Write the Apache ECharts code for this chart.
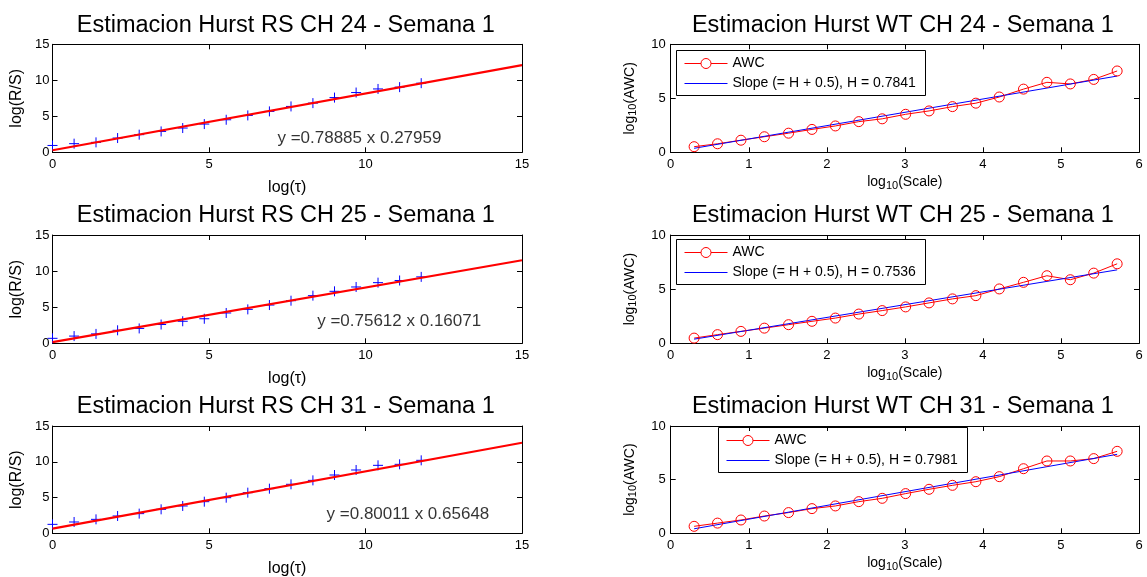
<!DOCTYPE html>
<html><head><meta charset="utf-8">
<script src="https://cdn.jsdelivr.net/npm/echarts@6/dist/echarts.min.js"></script>
<style>html,body{margin:0;padding:0;background:#fff}#c{width:1147px;height:577px}</style>
</head><body><div id="c"></div>
<script>
// ---------- data ----------
const rsTitles = ['Estimacion Hurst RS CH 24 - Semana 1', 'Estimacion Hurst RS CH 25 - Semana 1', 'Estimacion Hurst RS CH 31 - Semana 1'];
const wtTitles = ['Estimacion Hurst WT CH 24 - Semana 1', 'Estimacion Hurst WT CH 25 - Semana 1', 'Estimacion Hurst WT CH 31 - Semana 1'];
const rsX = [0, 0.69, 1.39, 2.08, 2.77, 3.47, 4.16, 4.85, 5.55, 6.24, 6.93, 7.62, 8.32, 9.01, 9.70, 10.40, 11.09, 11.78];
const rsCH24 = [0.95, 1.2, 1.38, 1.98, 2.45, 2.9, 3.37, 3.92, 4.52, 5.12, 5.68, 6.37, 6.83, 7.6, 8.3, 8.8, 9.05, 9.6];
const rsCH25 = [0.69, 1.0, 1.3, 1.8, 2.06, 2.6, 3.05, 3.4, 4.2, 4.7, 5.3, 5.9, 6.6, 7.2, 7.8, 8.4, 8.7, 9.2];
const rsCH31 = [1.25, 1.58, 1.95, 2.42, 2.75, 3.35, 3.82, 4.42, 4.98, 5.68, 6.24, 6.85, 7.4, 8.15, 8.85, 9.5, 9.64, 10.2];
const rsFitCH24 = [[0, 0.28], [15, 12.11]];
const rsFitCH25 = [[0, 0.16], [15, 11.50]];
const rsFitCH31 = [[0, 0.66], [15, 12.66]];
const rsEquations = ['y =0.78885 x 0.27959', 'y =0.75612 x 0.16071', 'y =0.80011 x 0.65648'];
const rsEquationAt = [[7.17, 1.9], [8.44, 2.98], [8.74, 2.66]];
const rsXName = 'log(τ)';
const rsYName = 'log(R/S)';

const wtX = [0.30, 0.60, 0.90, 1.20, 1.51, 1.81, 2.11, 2.41, 2.71, 3.01, 3.31, 3.61, 3.91, 4.21, 4.52, 4.82, 5.12, 5.42, 5.72];
const wtCH24 = [0.52, 0.79, 1.12, 1.44, 1.77, 2.12, 2.44, 2.84, 3.1, 3.52, 3.83, 4.23, 4.55, 5.12, 5.85, 6.48, 6.33, 6.75, 7.53];
const wtCH25 = [0.48, 0.8, 1.1, 1.4, 1.72, 2.03, 2.33, 2.7, 3.02, 3.36, 3.73, 4.1, 4.4, 5.02, 5.63, 6.24, 5.87, 6.48, 7.34];
const wtCH31 = [0.65, 0.95, 1.24, 1.61, 1.93, 2.3, 2.55, 2.95, 3.26, 3.7, 4.1, 4.47, 4.81, 5.28, 6.02, 6.74, 6.74, 6.96, 7.64];
const wtFitCH24 = [[0.30, 0.37], [5.72, 7.06]];
const wtFitCH25 = [[0.30, 0.38], [5.72, 6.78]];
const wtFitCH31 = [[0.30, 0.42], [5.72, 7.36]];
const wtSeriesName = 'AWC';
const wtSlopeNames = ['Slope (= H + 0.5), H = 0.7841', 'Slope (= H + 0.5), H = 0.7536', 'Slope (= H + 0.5), H = 0.7981'];
const wtXName = '{m|log}{s|10}{m|(Scale)}';
const wtYName = '{m|log}{s|10}{m|(AWC)}';

const rsSets = [rsCH24, rsCH25, rsCH31];
const rsFits = [rsFitCH24, rsFitCH25, rsFitCH31];
const wtSets = [wtCH24, wtCH25, wtCH31];
const wtFits = [wtFitCH24, wtFitCH25, wtFitCH31];

// ---------- layout ----------
const FONT = 'Liberation Sans, Arial, Helvetica, sans-serif';
const colLeft = [52.5, 670.7];
const colWidth = [469.5, 468.3];
const rowTop = [44.3, 235, 426];
const rowHeight = [108, 108.3, 107.3];
const legendPos = [[676.5, 50.5], [676.5, 239.5], [718.5, 427.5]];
const legendBox = { w: 249, h: 45, pad: 8, icon: 43, row1: 12.5, row2: 32.5 };

const grids = [], xAxes = [], yAxes = [], titles = [], series = [], graphics = [];
const richName = {
  m: { fontSize: 14, lineHeight: 16, verticalAlign: 'top', fontFamily: FONT, color: '#000' },
  s: { fontSize: 11, lineHeight: 11, verticalAlign: 'bottom', padding: [8, 0, 0, 0], fontFamily: FONT, color: '#000' }
};

function addAxes(gi, xmin, xmax, xint, ymin, ymax, yint, xName, yName, isWT) {
  const lineStyle = { color: '#000', width: 1 };
  const tick = { show: true, inside: true, length: 5, lineStyle: { color: '#000', width: 1 } };
  const label = { show: true, color: '#000', fontSize: 13, fontFamily: FONT };
  xAxes.push({
    type: 'value', gridIndex: gi, position: 'bottom', min: xmin, max: xmax, interval: xint,
    axisLine: { show: true, onZero: false, lineStyle }, axisTick: tick, splitLine: { show: false },
    axisLabel: Object.assign({ margin: 6, hideOverlap: false }, label),
    name: xName, nameLocation: 'middle', nameGap: isWT ? 18 : 27,
    nameTextStyle: isWT ? { rich: richName, color: '#000' } : { fontSize: 16, color: '#000', fontFamily: FONT }
  });
  xAxes.push({
    type: 'value', gridIndex: gi, position: 'top', min: xmin, max: xmax, interval: xint,
    axisLine: { show: true, onZero: false, lineStyle }, axisTick: tick, splitLine: { show: false },
    axisLabel: { show: false }
  });
  yAxes.push({
    type: 'value', gridIndex: gi, position: 'left', min: ymin, max: ymax, interval: yint,
    axisLine: { show: true, onZero: false, lineStyle }, axisTick: tick, splitLine: { show: false },
    axisLabel: Object.assign({ margin: isWT ? 5 : 3, hideOverlap: false }, label),
    name: yName, nameLocation: 'middle', nameGap: isWT ? 32 : 28,
    nameTextStyle: isWT ? { rich: richName, color: '#000' } : { fontSize: 16, color: '#000', fontFamily: FONT }
  });
  yAxes.push({
    type: 'value', gridIndex: gi, position: 'right', min: ymin, max: ymax, interval: yint,
    axisLine: { show: true, onZero: false, lineStyle }, axisTick: tick, splitLine: { show: false },
    axisLabel: { show: false }
  });
}

function addLegend(r) {
  const x0 = legendPos[r][0], y0 = legendPos[r][1];
  const ix = x0 + legendBox.pad, tx = ix + legendBox.icon + 5;
  const ya = Math.round(y0 + legendBox.row1) + 0.5, yb = Math.round(y0 + legendBox.row2) + 0.5;
  graphics.push({
    type: 'group', z: 100, silent: true,
    children: [
      { type: 'rect', shape: { x: x0, y: y0, width: legendBox.w, height: legendBox.h },
        style: { fill: '#fff', stroke: '#000', lineWidth: 1 } },
      { type: 'line', shape: { x1: ix, y1: ya, x2: ix + legendBox.icon, y2: ya },
        style: { stroke: '#ff0000', lineWidth: 1 } },
      { type: 'circle', shape: { cx: ix + legendBox.icon / 2, cy: ya, r: 5 },
        style: { fill: '#fff', stroke: '#ff0000', lineWidth: 1 } },
      { type: 'text', style: { text: wtSeriesName, x: tx, y: ya, fill: '#000', font: '14px ' + FONT, align: 'left', verticalAlign: 'middle' } },
      { type: 'line', shape: { x1: ix, y1: yb, x2: ix + legendBox.icon, y2: yb },
        style: { stroke: '#0000ff', lineWidth: 1 } },
      { type: 'text', style: { text: wtSlopeNames[r], x: tx, y: yb, fill: '#000', font: '14px ' + FONT, align: 'left', verticalAlign: 'middle' } }
    ]
  });
}

for (let r = 0; r < 3; r++) {
  // RS panel
  const gi = r;
  grids.push({ left: colLeft[0], top: rowTop[r], width: colWidth[0], height: rowHeight[r], outerBoundsMode: 'none', containLabel: false });
  addAxes(gi, 0, 15, 5, 0, 15, 5, rsXName, rsYName, false);
  titles.push({ text: rsTitles[r], left: colLeft[0] + colWidth[0] / 2 - 1.5, textAlign: 'center', top: rowTop[r] - 31, padding: 0,
    textStyle: { fontSize: 23.5, fontWeight: 'normal', color: '#000', fontFamily: FONT } });
  series.push({
    type: 'scatter', name: 'rs' + r, xAxisIndex: 2 * gi, yAxisIndex: 2 * gi,
    data: rsX.map((x, k) => [x, rsSets[r][k]]),
    symbol: 'path://M0,5L10,5M5,0L5,10', symbolSize: 10,
    itemStyle: { color: 'rgba(0,0,0,0)', borderColor: '#0000ff', borderWidth: 1, opacity: 1 }
  });
  series.push({
    type: 'line', name: 'fit' + r, xAxisIndex: 2 * gi, yAxisIndex: 2 * gi,
    data: rsFits[r], symbol: 'none', lineStyle: { color: '#ff0000', width: 2.2 }
  });
  series.push({
    type: 'scatter', name: 'eq' + r, xAxisIndex: 2 * gi, yAxisIndex: 2 * gi,
    data: [rsEquationAt[r]], symbolSize: 1, itemStyle: { color: 'rgba(0,0,0,0)' },
    label: { show: true, position: 'right', distance: 0, formatter: rsEquations[r], fontSize: 17, color: '#000', fontFamily: FONT }
  });
}
for (let r = 0; r < 3; r++) {
  // WT panel
  const gi = 3 + r;
  grids.push({ left: colLeft[1], top: rowTop[r], width: colWidth[1], height: rowHeight[r], outerBoundsMode: 'none', containLabel: false });
  addAxes(gi, 0, 6, 1, 0, 10, 5, wtXName, wtYName, true);
  titles.push({ text: wtTitles[r], left: colLeft[1] + colWidth[1] / 2 - 2, textAlign: 'center', top: rowTop[r] - 31, padding: 0,
    textStyle: { fontSize: 23.5, fontWeight: 'normal', color: '#000', fontFamily: FONT } });
  series.push({
    type: 'line', name: wtSeriesName, xAxisIndex: 2 * gi, yAxisIndex: 2 * gi,
    data: wtX.map((x, k) => [x, wtSets[r][k]]),
    symbol: 'circle', symbolSize: 10, showSymbol: true,
    itemStyle: { color: 'rgba(255,0,0,0)', borderColor: '#ff0000', borderWidth: 1 },
    lineStyle: { color: '#ff0000', width: 1 }
  });
  series.push({
    type: 'line', name: wtSlopeNames[r], xAxisIndex: 2 * gi, yAxisIndex: 2 * gi,
    data: wtFits[r], symbol: 'none', itemStyle: { color: '#0000ff' },
    lineStyle: { color: '#0000ff', width: 1 }
  });
  addLegend(r);
}

const chart = echarts.init(document.getElementById('c'), null, { renderer: 'canvas' });
chart.setOption({
  animation: false,
  backgroundColor: '#fff',
  title: titles,
  grid: grids,
  xAxis: xAxes,
  yAxis: yAxes,
  series: series,
  graphic: { elements: graphics }
});
</script>
</body></html>
